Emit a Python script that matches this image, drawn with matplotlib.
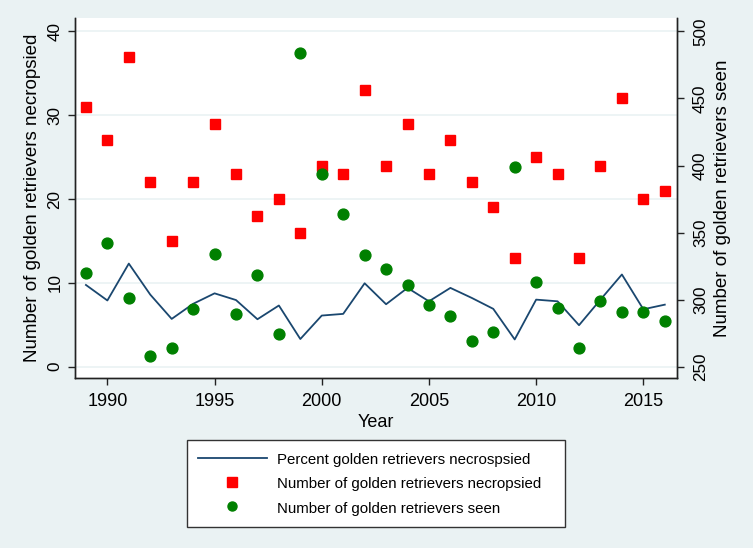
import matplotlib
matplotlib.use("Agg")
import matplotlib.pyplot as plt
from matplotlib.lines import Line2D

plt.rcParams['font.family'] = ['Liberation Sans', 'DejaVu Sans']

years = list(range(1989, 2017))
necropsied = [31, 27, 37, 22, 15, 22, 29, 23, 18, 20, 16, 24, 23, 33,
              24, 29, 23, 27, 22, 19, 13, 25, 23, 13, 24, 32, 20, 21]
seen = [320, 342, 301, 258, 264, 293, 334, 289, 318, 274, 484, 394, 364, 333,
        323, 311, 296, 288, 269, 276, 399, 313, 294, 264, 299, 291, 291, 284]
percent = [9.75, 7.9, 12.3, 8.6, 5.7, 7.5, 8.75, 7.95, 5.66, 7.3, 3.3, 6.1, 6.3, 9.95,
           7.45, 9.4, 7.8, 9.4, 8.2, 6.9, 3.25, 8.0, 7.8, 4.95, 8.0, 11.0, 6.85, 7.4]
left_ticks = [0, 10, 20, 30, 40]
right_ticks = [250, 300, 350, 400, 450, 500]
x_ticks = [1990, 1995, 2000, 2005, 2010, 2015]

BG = '#EAF2F3'
NAVY = '#1A476F'
RED = '#FF0000'
GREEN = '#008000'
AX = '#222222'

W, H = 753, 548
fig = plt.figure(figsize=(W / 100, H / 100), dpi=100, facecolor=BG)
x0, x1, yt, yb = 75, 677, 18, 378
ax = fig.add_axes([x0 / W, 1 - yb / H, (x1 - x0) / W, (yb - yt) / H])
ax.set_facecolor('white')

ax.set_xlim(1988.49, 2016.57)
lo, hi = -1.35, 41.6
ax.set_ylim(lo, hi)
for v in left_ticks:
    ax.axhline(v, color=BG, lw=1.2, zorder=0)

ax.plot(years, percent, color=NAVY, lw=1.3, zorder=3)
ax.plot(years, necropsied, ls='none', marker='s', ms=7.2, color=RED, mec=RED, zorder=4)

ax2 = ax.twinx()
ax2.set_ylim(250 + lo * 6.25, 250 + hi * 6.25)
ax2.plot(years, seen, ls='none', marker='o', ms=7.8, color=GREEN, mec=GREEN, zorder=4)

for a in (ax, ax2):
    a.spines['top'].set_visible(False)
    for s in a.spines.values():
        s.set_color(AX)
        s.set_linewidth(1.0)

ax.set_yticks(left_ticks)
ax.set_yticklabels([str(v) for v in left_ticks], rotation=90, va='center')
ax.tick_params(axis='y', length=5, width=1, colors=AX, labelcolor='black', labelsize=12.3, pad=4)
ax.set_xticks(x_ticks)
ax.tick_params(axis='x', length=5, width=1, colors=AX, labelcolor='black', labelsize=13, pad=5.5)
ax2.set_yticks(right_ticks)
ax2.set_yticklabels([str(v) for v in right_ticks], rotation=90, va='center')
ax2.tick_params(axis='y', length=5, width=1, colors=AX, labelcolor='black', labelsize=12.3, pad=6.5)

ax.set_ylabel('Number of golden retrievers necropsied', fontsize=13.5, labelpad=4.5)
ax2.set_ylabel('Number of golden retrievers seen', fontsize=13.5, labelpad=4)
ax.set_xlabel('Year', fontsize=13, labelpad=3.3)

handles = [
    Line2D([], [], color=NAVY, lw=1.3),
    Line2D([], [], ls='none', marker='s', ms=6.5, color=RED),
    Line2D([], [], ls='none', marker='o', ms=6.5, color=GREEN),
]
labels = ['Percent golden retrievers necrospsied',
          'Number of golden retrievers necropsied',
          'Number of golden retrievers seen']
lx0, lx1, ly0, ly1 = 186.7, 565, 440, 520.7
leg = fig.legend(handles, labels, loc='upper left',
                 bbox_to_anchor=(lx0 / W, 0, (lx1 - lx0) / W, 1 - ly0 / H),
                 mode='expand', fontsize=10.8, frameon=True, fancybox=False,
                 handlelength=4.6, handletextpad=0.65, labelspacing=0.57,
                 handleheight=1.2, borderpad=0.75, borderaxespad=0)
leg.get_frame().set_edgecolor('#333333')
leg.get_frame().set_linewidth(1.0)
leg.get_frame().set_facecolor('white')
leg.get_frame().set_alpha(1)

fig.savefig('out.png', dpi=100, facecolor=BG)
